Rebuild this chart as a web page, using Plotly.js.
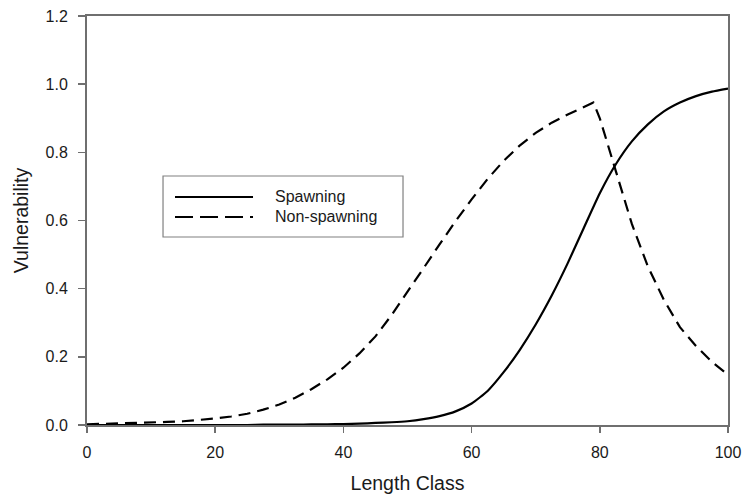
<!DOCTYPE html>
<html>
<head>
<meta charset="utf-8">
<script src="https://cdn.plot.ly/plotly-3.0.1.min.js"></script>
<style>
  html, body { margin: 0; padding: 0; background: #ffffff; }
  #chart { width: 744px; height: 497px; }
</style>
</head>
<body>
<div id="chart"></div>
<script>
// Length classes sampled along the curves
const spawnLength = [0, 2.5, 5, 7.5, 10, 12.5, 15, 17.5, 20, 22.5, 25, 27.5, 30, 32.5, 35, 37.5,
  40, 42.5, 45, 47.5, 50, 52.5, 55, 57.5, 60, 62.5, 65, 67.5, 70, 72.5, 75, 77.5,
  80, 82.5, 85, 87.5, 90, 92.5, 95, 97.5, 100];
const spawnVuln = [0, 0, 0, 0, 0, 0, 0, 0, 0, 0, 0, 0.001, 0.001, 0.001, 0.002, 0.002,
  0.003, 0.004, 0.006, 0.008, 0.011, 0.017, 0.026, 0.04, 0.063, 0.1, 0.155, 0.22, 0.295, 0.38, 0.475, 0.578,
  0.68, 0.765, 0.832, 0.882, 0.92, 0.946, 0.965, 0.978, 0.987];

const nonSpawnLength = [0, 2.5, 5, 7.5, 10, 12.5, 15, 17.5, 20, 22.5, 25, 27.5, 30, 32.5, 35, 37.5,
  40, 42.5, 45, 47.5, 50, 52.5, 55, 57.5, 60, 62.5, 65, 67.5, 70, 72.5, 75, 77.5,
  79, 80, 81, 82.5, 85, 87.5, 90, 92.5, 95, 97.5, 100];
const nonSpawnVuln = [0.002, 0.003, 0.004, 0.005, 0.007, 0.009, 0.011, 0.014, 0.019, 0.025, 0.033, 0.045, 0.06, 0.08, 0.105, 0.134,
  0.168, 0.21, 0.26, 0.322, 0.39, 0.46, 0.53, 0.598, 0.662, 0.722, 0.775, 0.82, 0.857, 0.887, 0.911, 0.932,
  0.946, 0.9, 0.84, 0.745, 0.59, 0.465, 0.367, 0.287, 0.232, 0.185, 0.147];

const seriesNames = ["Spawning", "Non-spawning"];
const xTicks = [0, 20, 40, 60, 80, 100];
const yTicks = [0.0, 0.2, 0.4, 0.6, 0.8, 1.0, 1.2];
const yTickText = yTicks.map(v => v.toFixed(1));

const FONT = "Liberation Sans, Arial, sans-serif";
const TEXT = "#1a1a1a";
const AXIS = "#6f6f6f";
const DASH = "12px,7px";

const traces = [
  {
    x: spawnLength, y: spawnVuln, name: seriesNames[0],
    type: "scatter", mode: "lines",
    line: { color: "#000000", width: 2.2, shape: "spline", smoothing: 0.5 }
  },
  {
    x: nonSpawnLength, y: nonSpawnVuln, name: seriesNames[1],
    type: "scatter", mode: "lines",
    line: { color: "#000000", width: 2.2, dash: DASH }
  }
];

// Boxed legend placed inside the plot area, drawn in paper coordinates
const legendShapes = [
  { type: "rect", xref: "paper", yref: "paper", x0: 0.1186, x1: 0.4930, y0: 0.4597, y1: 0.6088,
    line: { color: "#808080", width: 1.2 }, fillcolor: "#ffffff", layer: "above" },
  { type: "line", xref: "paper", yref: "paper", x0: 0.1373, x1: 0.2590, y0: 0.5575, y1: 0.5575,
    line: { color: "#000000", width: 2.2 }, layer: "above" },
  { type: "line", xref: "paper", yref: "paper", x0: 0.1373, x1: 0.2590, y0: 0.5086, y1: 0.5086,
    line: { color: "#000000", width: 2.2, dash: "18px,7px" }, layer: "above" }
];
const legendLabels = seriesNames.map((name, i) => ({
  xref: "paper", yref: "paper", x: 0.2901, y: i === 0 ? 0.5575 : 0.5086,
  xanchor: "left", yanchor: "middle", showarrow: false, text: name,
  font: { family: FONT, size: 16, color: TEXT }
}));

const layout = {
  width: 744, height: 497,
  margin: { l: 87, r: 16, t: 16, b: 72 },
  paper_bgcolor: "#ffffff", plot_bgcolor: "#ffffff",
  showlegend: false,
  font: { family: FONT, size: 16, color: TEXT },
  xaxis: {
    range: [0, 100], tickvals: xTicks, ticktext: xTicks.map(String),
    showgrid: false, zeroline: false,
    showline: true, linecolor: AXIS, linewidth: 2, mirror: true,
    ticks: "outside", ticklen: 6, tickwidth: 1.5, tickcolor: AXIS,
    ticklabelstandoff: 6,
    tickfont: { family: FONT, size: 16, color: TEXT },
    title: { text: "Length Class", font: { family: FONT, size: 19.5, color: TEXT }, standoff: 16 }
  },
  yaxis: {
    range: [0, 1.2], tickvals: yTicks, ticktext: yTickText,
    showgrid: false, zeroline: false,
    showline: true, linecolor: AXIS, linewidth: 2, mirror: true,
    ticks: "outside", ticklen: 7, tickwidth: 1.5, tickcolor: AXIS,
    ticklabelstandoff: 7,
    tickfont: { family: FONT, size: 16, color: TEXT },
    title: { text: "Vulnerability", font: { family: FONT, size: 19.5, color: TEXT }, standoff: 12 }
  },
  shapes: legendShapes,
  annotations: legendLabels
};

Plotly.newPlot("chart", traces, layout, { displayModeBar: false, staticPlot: true });
</script>
</body>
</html>
